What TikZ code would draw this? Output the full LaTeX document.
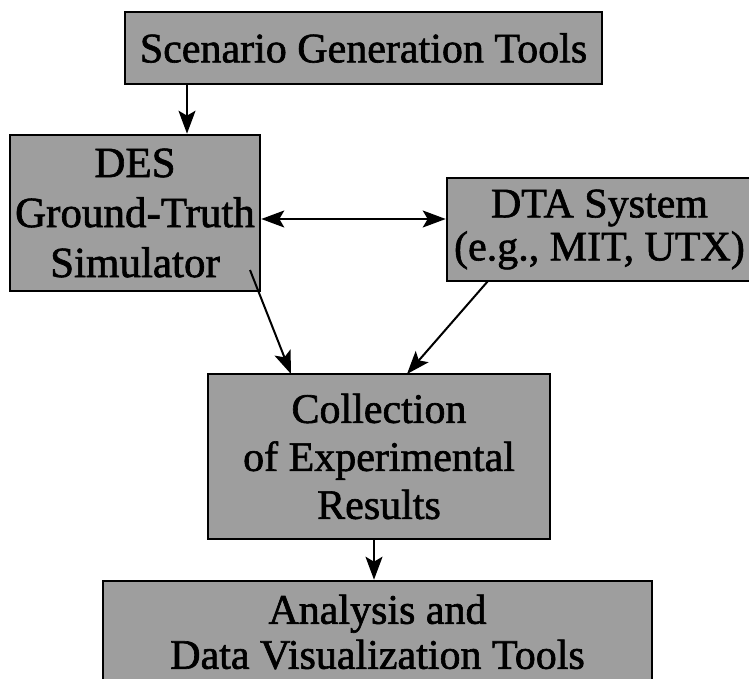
\documentclass[tikz,border=0pt]{standalone}
\usepackage{fontspec}
\setmainfont{Liberation Serif}
\newfontfamily\heavyserif{Liberation Serif}[FakeBold=1.5]
\usetikzlibrary{arrows.meta}
\definecolor{boxgray}{gray}{0.62}
\begin{document}
\begin{tikzpicture}[x=0.5pt,y=-0.5pt,
  box/.style={draw=black, line width=1.3pt, fill=boxgray, inner sep=0pt, align=center, font=\heavyserif\fontsize{21}{24}\selectfont},
  conn/.style={line width=1pt, -{Stealth[length=11.5pt,width=8.5pt,inset=2.5pt]}},
  dconn/.style={line width=1pt, {Stealth[length=11.5pt,width=8.5pt,inset=2.5pt]}-{Stealth[length=11.5pt,width=8.5pt,inset=2.5pt]}}
]
\useasboundingbox (0,0) rectangle (749,679);
\clip (0,0) rectangle (749,679);
\node[box, minimum width=238.5pt, minimum height=36pt] (scen) at (363.5,48) {Scenario Generation Tools};
\node[box, minimum width=125pt, minimum height=78pt, font=\heavyserif\fontsize{21.5}{25}\selectfont] (des) at (135,213) {DES\\Ground-Truth\\Simulator};
\node[box, minimum width=152.5pt, minimum height=51.5pt, font=\heavyserif\fontsize{21}{21.5}\selectfont] (dta) at (599.5,229.5) {DTA System\\(e.g., MIT, UTX)};
\node[box, minimum width=171pt, minimum height=82.5pt, font=\heavyserif\fontsize{21}{24}\selectfont] (coll) at (379,456.5) {Collection\\of Experimental\\Results};
\node[box, minimum width=274.5pt, minimum height=51pt, font=\heavyserif\fontsize{21}{22.5}\selectfont] (anal) at (377.5,632) {Analysis and\\Data Visualization Tools};
\coordinate (scenout) at (187,84);
\coordinate (dblrow) at (0,219);
\coordinate (desout) at (250,270);
\coordinate (desin) at (291,374);
\coordinate (dtaout) at (488,281);
\coordinate (dtain) at (407,374);
\coordinate (collout) at (374,539);
\draw[conn] (scenout) -- (scenout |- des.north);
\draw[dconn] (des.east |- dblrow) -- (dta.west |- dblrow);
\draw[conn] (desout) -- (desin);
\draw[conn] (dtaout) -- (dtain);
\draw[conn] (collout) -- (collout |- anal.north);
\end{tikzpicture}
\end{document}
